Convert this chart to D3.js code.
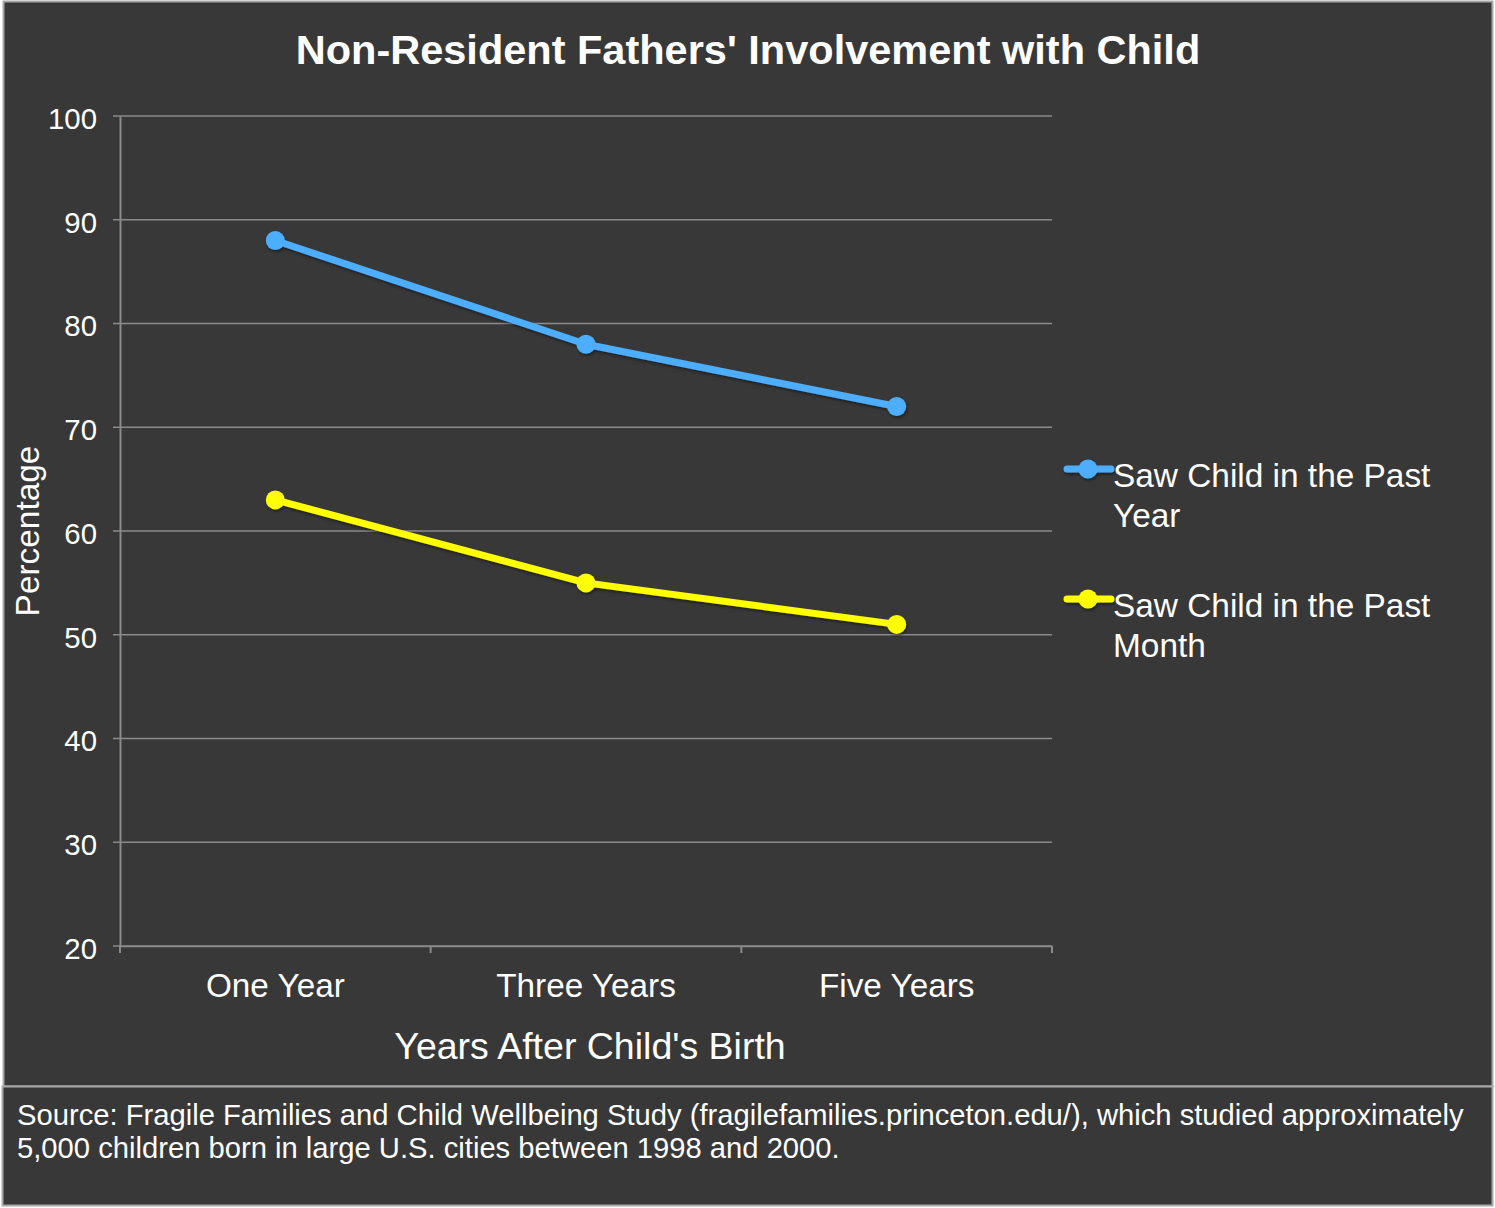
<!DOCTYPE html>
<html><head><meta charset="utf-8">
<script src="https://cdn.jsdelivr.net/npm/d3@7"></script>
<style>html,body{margin:0;padding:0;background:#fff;}svg{display:block;font-family:"Liberation Sans",Arial,Helvetica,sans-serif;}</style>
</head><body>
<script>
const categories = ["One Year", "Three Years", "Five Years"];
const seriesNames = ["Saw Child in the Past Year", "Saw Child in the Past Month"];
const pastYear = [88, 78, 72];
const pastMonth = [63, 55, 51];
const yTicks = [20, 30, 40, 50, 60, 70, 80, 90, 100];
const colors = ["#4dadff", "#ffff00"];
const legendLines = [["Saw Child in the Past", "Year"], ["Saw Child in the Past", "Month"]];

(function () {
const W = 1495, H = 1208;
const FF = '"Liberation Sans",Arial,sans-serif';
const svg = d3.select("body").append("svg").attr("width", W).attr("height", H);
const defs = svg.append("defs");
const f = defs.append("filter").attr("id","sh").attr("x","-50%").attr("y","-50%").attr("width","200%").attr("height","200%");
f.append("feDropShadow").attr("dx",1).attr("dy",2).attr("stdDeviation",1.5).attr("flood-color","#000").attr("flood-opacity",0.45);

svg.append("rect").attr("x",0).attr("y",0).attr("width",W).attr("height",H).attr("fill","#ffffff");
svg.append("rect").attr("x",3.5).attr("y",1.5).attr("width",1489).attr("height",1085).attr("fill","#383838").attr("stroke","#a8a8a8").attr("stroke-width",2);
svg.append("rect").attr("x",2.5).attr("y",1086.5).attr("width",1490).attr("height",119).attr("fill","#383838").attr("stroke","#a8a8a8").attr("stroke-width",2);

const mLeft = 120, mRight = 1052, mTop = 116, mBottom = 946;
const x = d3.scaleBand().domain(categories).range([mLeft, mRight]);
const y = d3.scaleLinear().domain([20, 100]).range([mBottom, mTop]);

// gridlines
svg.append("g").selectAll("line").data(yTicks).join("line")
  .attr("x1", mLeft - 7).attr("x2", mRight)
  .attr("y1", d => y(d)).attr("y2", d => y(d))
  .attr("stroke", "#8a8a8a").attr("stroke-width", 1.5);

// y axis
const yAxis = svg.append("g").attr("transform", `translate(${mLeft},0)`)
  .call(d3.axisLeft(y).tickValues(yTicks).tickSize(0).tickPadding(23));
yAxis.select(".domain").attr("stroke", "#8a8a8a").attr("stroke-width", 2);
yAxis.selectAll("text").attr("fill", "#ffffff").attr("font-size", 29.4).attr("font-family", FF).attr("dy","0.42em");

// x axis
const xAxis = svg.append("g").attr("transform", `translate(0,${mBottom})`)
  .call(d3.axisBottom(x).tickSize(0));
xAxis.select(".domain").attr("stroke", "#8a8a8a").attr("stroke-width", 1.5);
xAxis.selectAll("text").attr("fill", "#ffffff").attr("font-size", 33.3).attr("font-family", FF).attr("y", 51).attr("dy", 0);
const bounds = categories.map(c => x(c)).concat([x(categories[categories.length-1]) + x.bandwidth()]);
svg.append("g").selectAll("line").data(bounds).join("line")
  .attr("x1", d => d).attr("x2", d => d).attr("y1", mBottom).attr("y2", mBottom + 7)
  .attr("stroke", "#8a8a8a").attr("stroke-width", 2);

const cx = c => x(c) + x.bandwidth() / 2;
const series = [pastYear, pastMonth];
const line = d3.line().x((d, i) => cx(categories[i])).y(d => y(d));
series.forEach((vals, si) => {
  const g = svg.append("g").attr("filter","url(#sh)");
  g.append("path").datum(vals).attr("d", line).attr("fill", "none")
    .attr("stroke", colors[si]).attr("stroke-width", 7).attr("stroke-linejoin", "round").attr("stroke-linecap","round");
  g.selectAll("circle").data(vals).join("circle")
    .attr("cx", (d, i) => cx(categories[i])).attr("cy", d => y(d)).attr("r", 9.5).attr("fill", colors[si]);
});

// title
svg.append("text").attr("x", 748).attr("y", 64).attr("text-anchor", "middle")
  .attr("fill", "#ffffff").attr("font-size", 41.5).attr("font-weight", "bold")
  .text("Non-Resident Fathers' Involvement with Child");

// axis titles
svg.append("text").attr("x", 590).attr("y", 1059).attr("text-anchor", "middle")
  .attr("fill", "#ffffff").attr("font-size", 37.5).text("Years After Child's Birth");
svg.append("text").attr("transform", "translate(39,531) rotate(-90)").attr("text-anchor", "middle")
  .attr("fill", "#ffffff").attr("font-size", 33.4).text("Percentage");

// legend
const legY = [469, 599];
legendLines.forEach((lines, i) => {
  const g = svg.append("g").attr("transform", `translate(0,${legY[i]})`);
  const lg = g.append("g").attr("filter","url(#sh)");
  lg.append("line").attr("x1", 1067).attr("x2", 1111).attr("y1", 0).attr("y2", 0)
    .attr("stroke", colors[i]).attr("stroke-width", 7).attr("stroke-linecap","round");
  lg.append("circle").attr("cx", 1088).attr("cy", 0).attr("r", 9.5).attr("fill", colors[i]);
  lines.forEach((t, j) => {
    g.append("text").attr("x", 1113).attr("y", 18 + j * 40).attr("fill", "#ffffff")
      .attr("font-size", 33.4).text(t);
  });
});

// source
const src = ["Source: Fragile Families and Child Wellbeing Study (fragilefamilies.princeton.edu/), which studied approximately",
             "5,000 children born in large U.S. cities between 1998 and 2000."];
src.forEach((t, j) => {
  svg.append("text").attr("x", 17).attr("y", 1125 + j * 33).attr("fill", "#ffffff")
    .attr("font-size", 29.2).text(t);
});
})();
</script>
</body></html>
